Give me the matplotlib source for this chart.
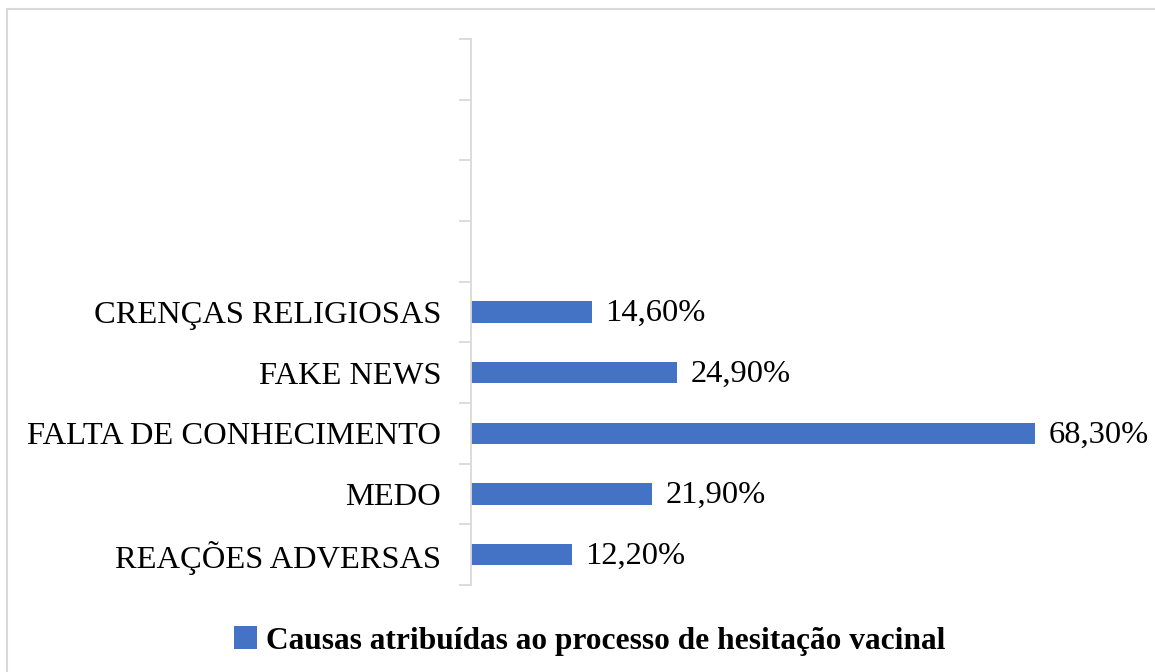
import matplotlib.pyplot as plt
from matplotlib.patches import Rectangle

plt.rcParams['font.family'] = ['Liberation Serif', 'DejaVu Serif']

# categories bottom -> top, 4 empty slots on top
categories = ['REAÇÕES ADVERSAS', 'MEDO', 'FALTA DE CONHECIMENTO',
              'FAKE NEWS', 'CRENÇAS RELIGIOSAS', '', '', '', '']
values = [0.122, 0.219, 0.683, 0.249, 0.146]
labels = ['12,20%', '21,90%', '68,30%', '24,90%', '14,60%']
series_name = 'Causas atribuídas ao processo de hesitação vacinal'

blue = '#4472C4'
grey = '#D9D9D9'
fs = 23.4

fig = plt.figure(figsize=(11.55, 6.72), dpi=100)
ax = fig.add_axes([471 / 1155, 1 - 585 / 672, (1049 - 471) / 1155, (585 - 39) / 672])

ypos = list(range(len(values)))
bars = ax.barh(ypos, values, height=0.35, color=blue, label=series_name)
for b, lab in zip(bars, labels):
    ax.text(b.get_width() + 0.0165, b.get_y() + b.get_height() / 2 - 0.03, lab,
            va='center', ha='left', fontsize=fs)

ax.set_xlim(0, 0.70)
ax.set_ylim(-0.5, len(categories) - 0.5)
ax.set_yticks(range(len(categories)))
ax.set_yticklabels(categories, fontsize=fs)
ax.set_yticks([i - 0.5 for i in range(len(categories) + 1)], minor=True)
ax.tick_params(axis='y', which='major', length=0, pad=21.5)
ax.tick_params(axis='y', which='minor', length=9, color=grey, width=1.3)
ax.set_xticks([])
for s in ['top', 'right', 'bottom']:
    ax.spines[s].set_visible(False)
ax.spines['left'].set_color(grey)
ax.spines['left'].set_linewidth(1.3)

leg = fig.legend(loc='center', bbox_to_anchor=(590 / 1155, 1 - 641 / 672),
                 frameon=False, prop={'weight': 'bold', 'size': 22.6},
                 handlelength=0.72, handleheight=0.72, handletextpad=0.3)

# chart frame (only top/left edges visible in the crop)
fig.patches.append(Rectangle((7 / 1155, -0.1), 1.2, 1 - 9 / 672 + 0.1,
                             transform=fig.transFigure, fill=False,
                             edgecolor=grey, linewidth=1.5))

fig.savefig('out.png', dpi=100)
